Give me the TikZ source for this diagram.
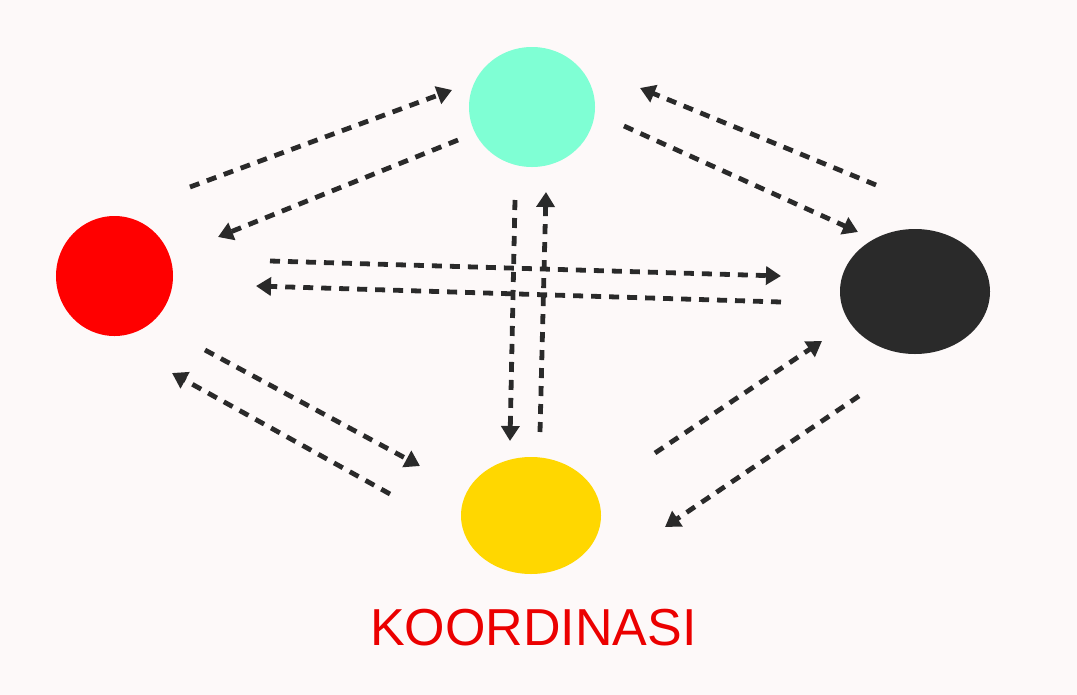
\documentclass[tikz,border=0pt]{standalone}
\usepackage{fontspec}
\setmainfont{Liberation Sans}
\usetikzlibrary{arrows.meta,shapes.geometric}

\definecolor{bgpink}{RGB}{253,249,249}
\definecolor{aquablob}{RGB}{127,255,212}
\definecolor{goldblob}{RGB}{255,215,0}
\definecolor{darkblob}{RGB}{42,42,42}
\definecolor{titlered}{RGB}{235,0,0}

\tikzset{
  blob/.style={ellipse, inner sep=0pt, draw=none},
  link/.style={draw=darkblob, line width=0.072cm,
    dash pattern=on 0.15cm off 0.12cm,
    -{Triangle[length=0.225cm,width=0.27cm]}}
}

\begin{document}
\begin{tikzpicture}[x=0.015cm,y=-0.015cm]
                      \fill [bgpink] (0,0) rectangle (1077,695);
                      \useasboundingbox (0,0) rectangle (1077,695);
                      % the four parties
                      \node (top) [blob, fill=aquablob, minimum width=1.89cm, minimum height=1.8cm] at (532,107) {};
                      \node (lft) [blob, fill=red, minimum width=1.755cm, minimum height=1.8cm] at (114.5,276) {};
                      \node (rgt) [blob, fill=darkblob, minimum width=2.25cm, minimum height=1.875cm] at (915,291.5) {};
                      \node (bot) [blob, fill=goldblob, minimum width=2.1cm, minimum height=1.755cm] at (531,515.5) {};
                      \node (title) [inner sep=0pt, anchor=base, text=titlered,
                        font=\fontsize{22.2}{26}\selectfont] at (533.5,645) {KOORDINASI};
                      % loose ends of the links
                      \coordinate (lt1) at (190,187);   \coordinate (lt2) at (452,90);
                      \coordinate (tl1) at (458,140);   \coordinate (tl2) at (218,237);
                      \coordinate (tr1) at (624,126);   \coordinate (tr2) at (858,232);
                      \coordinate (rt1) at (876,185);   \coordinate (rt2) at (640,88);
                      \coordinate (lr1) at (270,261);   \coordinate (lr2) at (781,276);
                      \coordinate (rl1) at (781,302);   \coordinate (rl2) at (256,286);
                      \coordinate (tb1) at (515,200);   \coordinate (tb2) at (510,441);
                      \coordinate (bt1) at (540,432);   \coordinate (bt2) at (546,192);
                      \coordinate (lb1) at (205,350);   \coordinate (lb2) at (420,466);
                      \coordinate (bl1) at (390,494);   \coordinate (bl2) at (172,373);
                      \coordinate (br1) at (655,453);   \coordinate (br2) at (822,341);
                      \coordinate (rb1) at (859,396);   \coordinate (rb2) at (665,527);
                      % links
                      \draw [link] (lt1) -- (lt2);
                      \draw [link] (tl1) -- (tl2);
                      \draw [link] (tr1) -- (tr2);
                      \draw [link] (rt1) -- (rt2);
                      \draw [link] (lr1) -- (lr2);
                      \draw [link] (rl1) -- (rl2);
                      \draw [link] (tb1) -- (tb2);
                      \draw [link] (bt1) -- (bt2);
                      \draw [link] (lb1) -- (lb2);
                      \draw [link] (bl1) -- (bl2);
                      \draw [link] (br1) -- (br2);
                      \draw [link] (rb1) -- (rb2);
                  \end{tikzpicture}
\end{document}
